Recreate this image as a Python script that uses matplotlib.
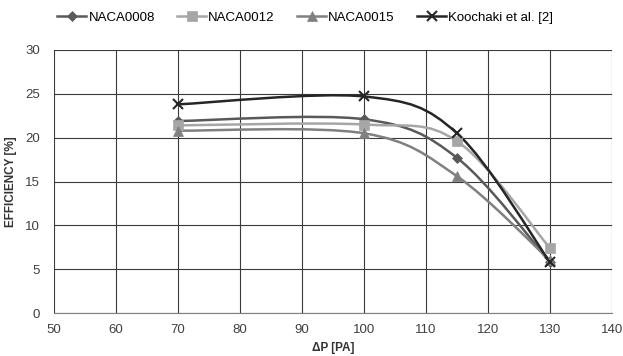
import numpy as np
import matplotlib.pyplot as plt
from matplotlib.path import Path
from matplotlib.patches import PathPatch
from matplotlib.lines import Line2D

plt.rcParams['font.family'] = ['Liberation Sans', 'DejaVu Sans']

dp = [70, 100, 115, 130]
naca0008 = [21.9, 22.1, 17.7, 5.8]
naca0012 = [21.4, 21.5, 19.6, 7.4]
naca0015 = [20.8, 20.5, 15.6, 6.0]
koochaki = [23.8, 24.7, 20.5, 5.8]

series = [
    ("NACA0008", naca0008, '#595959', 'D', 5),
    ("NACA0012", naca0012, '#a6a6a6', 's', 7),
    ("NACA0015", naca0015, '#808080', '^', 7),
    ("Koochaki et al. [2]", koochaki, '#262626', 'x', 7),
]


def smooth_path(x, y):
    # Excel-style smoothed line: cubic bezier through the points
    p = np.column_stack([x, y]).astype(float)
    n = len(p)
    verts = [p[0]]
    codes = [Path.MOVETO]
    for i in range(n - 1):
        p0 = p[i - 1] if i > 0 else p[i]
        p3 = p[i + 2] if i + 2 < n else p[i + 1]
        c1 = p[i] + (p[i + 1] - p0) / 6
        c2 = p[i + 1] - (p3 - p[i]) / 6
        verts += [c1, c2, p[i + 1]]
        codes += [Path.CURVE4] * 3
    return Path(verts, codes)


fig = plt.figure(figsize=(6.23, 3.56), dpi=100)
ax = fig.add_axes([54 / 623, 43 / 356, 558 / 623, 263 / 356])

handles = []
for name, vals, col, mk, ms in series:
    ax.add_patch(PathPatch(smooth_path(dp, vals), facecolor='none',
                           edgecolor=col, lw=1.8, zorder=3))
    ax.plot(dp, vals, linestyle='none', marker=mk, color=col,
            markersize=ms, markeredgewidth=1.5 if mk == 'x' else 0.5, zorder=4)
    handles.append(Line2D([], [], color=col, lw=1.8, marker=mk,
                          markersize=ms, markeredgewidth=1.5 if mk == 'x' else 0.5))

ax.set_xlim(50, 140)
ax.set_ylim(0, 30)
ax.set_xticks(range(50, 141, 10))
ax.set_yticks(range(0, 31, 5))
ax.grid(True, color='#3a3a3a', lw=0.8)
ax.set_axisbelow(True)
for s in ['top', 'right', 'left']:
    ax.spines[s].set_visible(False)
ax.spines['bottom'].set_color('#7f7f7f')
ax.tick_params(length=0, labelsize=9.5, colors='#404040')
ax.tick_params(axis='x', pad=8)
ax.tick_params(axis='y', pad=10)

ax.set_xlabel('ΔP [PA]', fontsize=8.5, fontweight='bold', color='#333333', labelpad=4)
ax.set_ylabel('EFFICIENCY [%]', fontsize=8.5, fontweight='bold', color='#333333', labelpad=6)

fig.legend(handles, [s[0] for s in series], loc='upper center',
           bbox_to_anchor=(0.49, 1.0), ncol=4, frameon=False, fontsize=9.5,
           handlelength=2.2, columnspacing=1.7, handletextpad=0.15)

fig.savefig('out.png', dpi=100)
